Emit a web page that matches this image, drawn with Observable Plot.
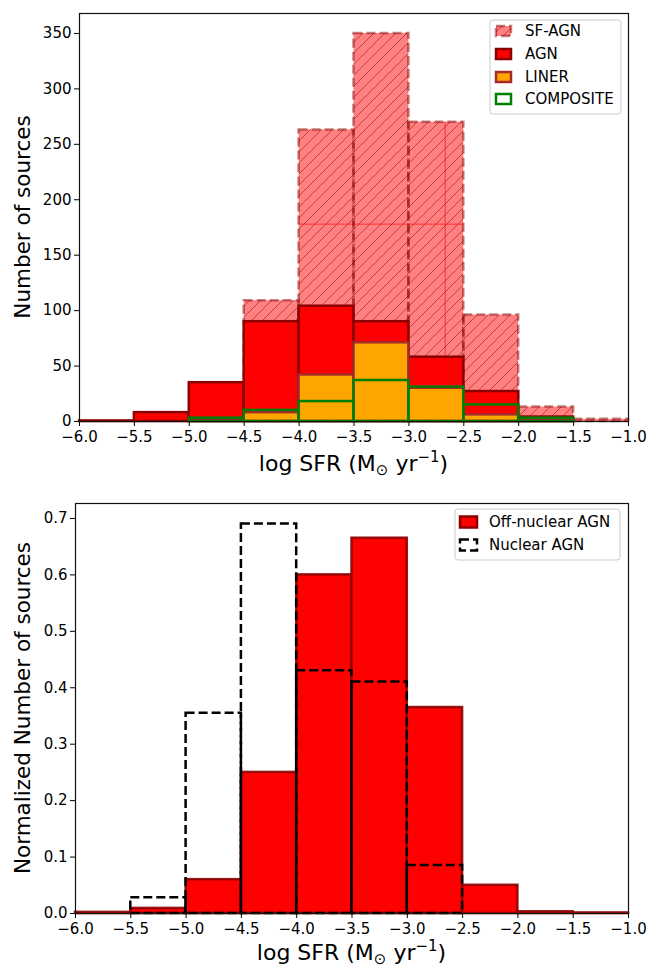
<!DOCTYPE html>
<html><head><meta charset="utf-8">
<script src="https://cdn.jsdelivr.net/npm/d3@7"></script>
<script src="https://cdn.jsdelivr.net/npm/@observablehq/plot@0.6"></script>
<style>
body{margin:0;background:#fff;}
#chart{width:660px;height:968px;}
svg{display:block}
</style></head><body><div id="chart"></div>
<script>
// ---------- data ----------
const binEdges = [-6, -5.5, -5, -4.5, -4, -3.5, -3, -2.5, -2, -1.5, -1];
const sfagnCounts     = [0, 0, 0, 109, 263, 350, 270, 96, 13, 2];
const agnCounts       = [0.5, 8, 35, 90, 104, 90, 58, 27, 4, 0];
const linerCounts     = [0, 0, 0.5, 8, 42, 71, 30, 6, 1, 0];
const compositeCounts = [0, 0, 3, 10, 18, 37, 31, 15, 3, 0];
const offNuclearNorm  = [0.002, 0.009, 0.06, 0.25, 0.60, 0.665, 0.365, 0.05, 0.003, 0.001];
const nuclearNorm     = [0, 0.028, 0.355, 0.69, 0.43, 0.41, 0.085, 0, 0, 0];
const xTicks = [-6, -5.5, -5, -4.5, -4, -3.5, -3, -2.5, -2, -1.5, -1];
const yTicksTop = [0, 50, 100, 150, 200, 250, 300, 350];
const yTicksBottom = [0, 0.1, 0.2, 0.3, 0.4, 0.5, 0.6, 0.7];
const topLegendLabels = ["SF-AGN", "AGN", "LINER", "COMPOSITE"];
const bottomLegendLabels = ["Off-nuclear AGN", "Nuclear AGN"];
const yLabelTop = "Number of sources";
const yLabelBottom = "Normalized Number of sources";
// thin red guide lines visible in the top panel
const guideV = [{x: -2.67, y1: 58, y2: 270}];
const guideH = [{y: 178, x1: -4, x2: -2.5}];

const bins = binEdges.slice(0, -1).map((x0, i) => ({
  x0, x1: binEdges[i + 1],
  sf: sfagnCounts[i], agn: agnCounts[i], liner: linerCounts[i], comp: compositeCounts[i],
  off: offNuclearNorm[i], nuc: nuclearNorm[i]
}));

const FONT = "DejaVu Sans";
const fmt = d3.format(".1f");

// ---------- top panel ----------
const W = 660, H = 484;
const topM = {top: 13, bottom: 63, left: 79, right: 32};
const topPlot = Plot.plot({
  width: W, height: H,
  marginTop: topM.top, marginBottom: topM.bottom, marginLeft: topM.left, marginRight: topM.right,
  style: {fontFamily: FONT, fontSize: "15px", background: "white", color: "black", overflow: "visible"},
  x: {domain: [-6, -1], ticks: xTicks, tickFormat: fmt, label: null, tickSize: 5, tickPadding: 5},
  y: {domain: [0, 368], ticks: yTicksTop, label: null, tickSize: 5, tickPadding: 3},
  marks: [
    Plot.rect(bins, {x1: "x0", x2: "x1", y1: 0, y2: "sf", fill: "#ff8080"}),
    Plot.rect(bins, {x1: "x0", x2: "x1", y1: 0, y2: "sf", fill: "url(#hatchSF)"}),
    Plot.ruleX(guideV, {x: "x", y1: "y1", y2: "y2", stroke: "#ff0000", strokeWidth: 0.8, strokeOpacity: 0.8}),
    Plot.ruleY(guideH, {y: "y", x1: "x1", x2: "x2", stroke: "#ff0000", strokeWidth: 0.8, strokeOpacity: 0.8}),
    Plot.rect(bins, {x1: "x0", x2: "x1", y1: 0, y2: "sf", fill: "none", stroke: "#8b0000", strokeOpacity: 0.5, strokeWidth: 2.5, strokeDasharray: "9,4"}),
    Plot.rect(bins, {x1: "x0", x2: "x1", y1: 0, y2: "agn", fill: "#ff0000", stroke: "#8b0000", strokeWidth: 2.5}),
    Plot.rect(bins, {x1: "x0", x2: "x1", y1: 0, y2: "liner", fill: "#ffa500", stroke: "#a52a2a", strokeWidth: 2.5}),
    Plot.rect(bins, {x1: "x0", x2: "x1", y1: 0, y2: "comp", fill: "none", stroke: "#008000", strokeWidth: 2.5}),
    Plot.frame({stroke: "#111", strokeWidth: 1.2})
  ]
});

// ---------- bottom panel ----------
const botM = {top: 19, bottom: 55, left: 75, right: 32};
const botPlot = Plot.plot({
  width: W, height: H,
  marginTop: botM.top, marginBottom: botM.bottom, marginLeft: botM.left, marginRight: botM.right,
  style: {fontFamily: FONT, fontSize: "15px", background: "white", color: "black", overflow: "visible"},
  x: {domain: [-6, -1], ticks: xTicks, tickFormat: fmt, label: null, tickSize: 5, tickPadding: 5},
  y: {domain: [0, 0.7265], ticks: yTicksBottom, tickFormat: fmt, label: null, tickSize: 5, tickPadding: 3},
  marks: [
    Plot.rect(bins, {x1: "x0", x2: "x1", y1: 0, y2: "off", fill: "#ff0000", stroke: "#8b0000", strokeOpacity: 0.9, strokeWidth: 2.5}),
    Plot.rect(bins, {x1: "x0", x2: "x1", y1: 0, y2: "nuc", fill: "none", stroke: "#000", strokeWidth: 2.5, strokeDasharray: "9,4"}),
    Plot.frame({stroke: "#111", strokeWidth: 1.2})
  ]
});

// ---------- helpers ----------
function addHatch(svg) {
  const defs = d3.select(svg).insert("defs", ":first-child");
  const p = defs.append("pattern").attr("id", "hatchSF").attr("patternUnits", "userSpaceOnUse")
    .attr("width", 11).attr("height", 11);
  p.append("path").attr("d", "M-1,1 l2,-2 M0,11 l11,-11 M10,12 l2,-2")
    .attr("stroke", "#8b0000").attr("stroke-opacity", 0.5).attr("stroke-width", 1);
}
function addXLabel(svg, cx, y) {
  const t = d3.select(svg).append("text").attr("x", cx).attr("y", y).attr("text-anchor", "middle")
    .attr("font-family", FONT).attr("font-size", 22).attr("fill", "black");
  t.append("tspan").text("log SFR (M");
  t.append("tspan").attr("font-size", 15).attr("dy", 4).text("\u2299");
  t.append("tspan").attr("dy", -4).text(" yr");
  t.append("tspan").attr("font-size", 15).attr("dy", -9).text("\u22121");
  t.append("tspan").attr("dy", 9).text(")");
}
function addYLabel(svg, x, cy, label) {
  d3.select(svg).append("text").attr("transform", `translate(${x},${cy}) rotate(-90)`)
    .attr("text-anchor", "middle").attr("font-family", FONT).attr("font-size", 21.5)
    .attr("fill", "black").text(label);
}
function swatch(g, kind, x, y, w, h) {
  const r = g.append("rect").attr("x", x).attr("y", y - h / 2).attr("width", w).attr("height", h);
  if (kind === "SF-AGN") {
    r.attr("fill", "#ff8080");
    g.append("rect").attr("x", x).attr("y", y - h / 2).attr("width", w).attr("height", h).attr("fill", "url(#hatchSF)")
      .attr("stroke", "#8b0000").attr("stroke-opacity", 0.5).attr("stroke-width", 2.5).attr("stroke-dasharray", "9,4");
  } else if (kind === "AGN" || kind === "Off-nuclear AGN") {
    r.attr("fill", "#ff0000").attr("stroke", "#8b0000").attr("stroke-width", 2.5);
  } else if (kind === "LINER") {
    r.attr("fill", "#ffa500").attr("stroke", "#a52a2a").attr("stroke-width", 2.5);
  } else if (kind === "COMPOSITE") {
    r.attr("fill", "white").attr("stroke", "#008000").attr("stroke-width", 2.5);
  } else {
    r.attr("fill", "none").attr("stroke", "#000").attr("stroke-width", 2.5).attr("stroke-dasharray", "9,4");
  }
}
function addLegend(svg, labels, box, rowY, hx, hw, hh, tx) {
  const g = d3.select(svg).append("g");
  g.append("rect").attr("x", box.x).attr("y", box.y).attr("width", box.w).attr("height", box.h)
    .attr("rx", 3).attr("fill", "white").attr("fill-opacity", 0.8).attr("stroke", "#cccccc").attr("stroke-width", 1);
  labels.forEach((lab, i) => {
    const y = rowY[i];
    swatch(g, lab, hx, y, hw, hh);
    g.append("text").attr("x", tx).attr("y", y).attr("dy", "0.36em").attr("text-anchor", "start")
      .attr("font-family", FONT).attr("font-size", 15).attr("fill", "black").text(lab);
  });
}

addHatch(topPlot);
addXLabel(topPlot, (topM.left + W - topM.right) / 2, 471);
addYLabel(topPlot, 30, (topM.top + H - topM.bottom) / 2, yLabelTop);
addLegend(topPlot, topLegendLabels, {x: 490, y: 20, w: 131, h: 94}, [31, 54, 77, 99], 496, 15, 10, 525);

addXLabel(botPlot, (botM.left + W - botM.right) / 2, 476);
addYLabel(botPlot, 30, (botM.top + H - botM.bottom) / 2, yLabelBottom);
addLegend(botPlot, bottomLegendLabels, {x: 455, y: 25, w: 165, h: 51}, [38, 61], 460, 17, 11, 489);

document.getElementById("chart").append(topPlot, botPlot);
</script></body></html>
